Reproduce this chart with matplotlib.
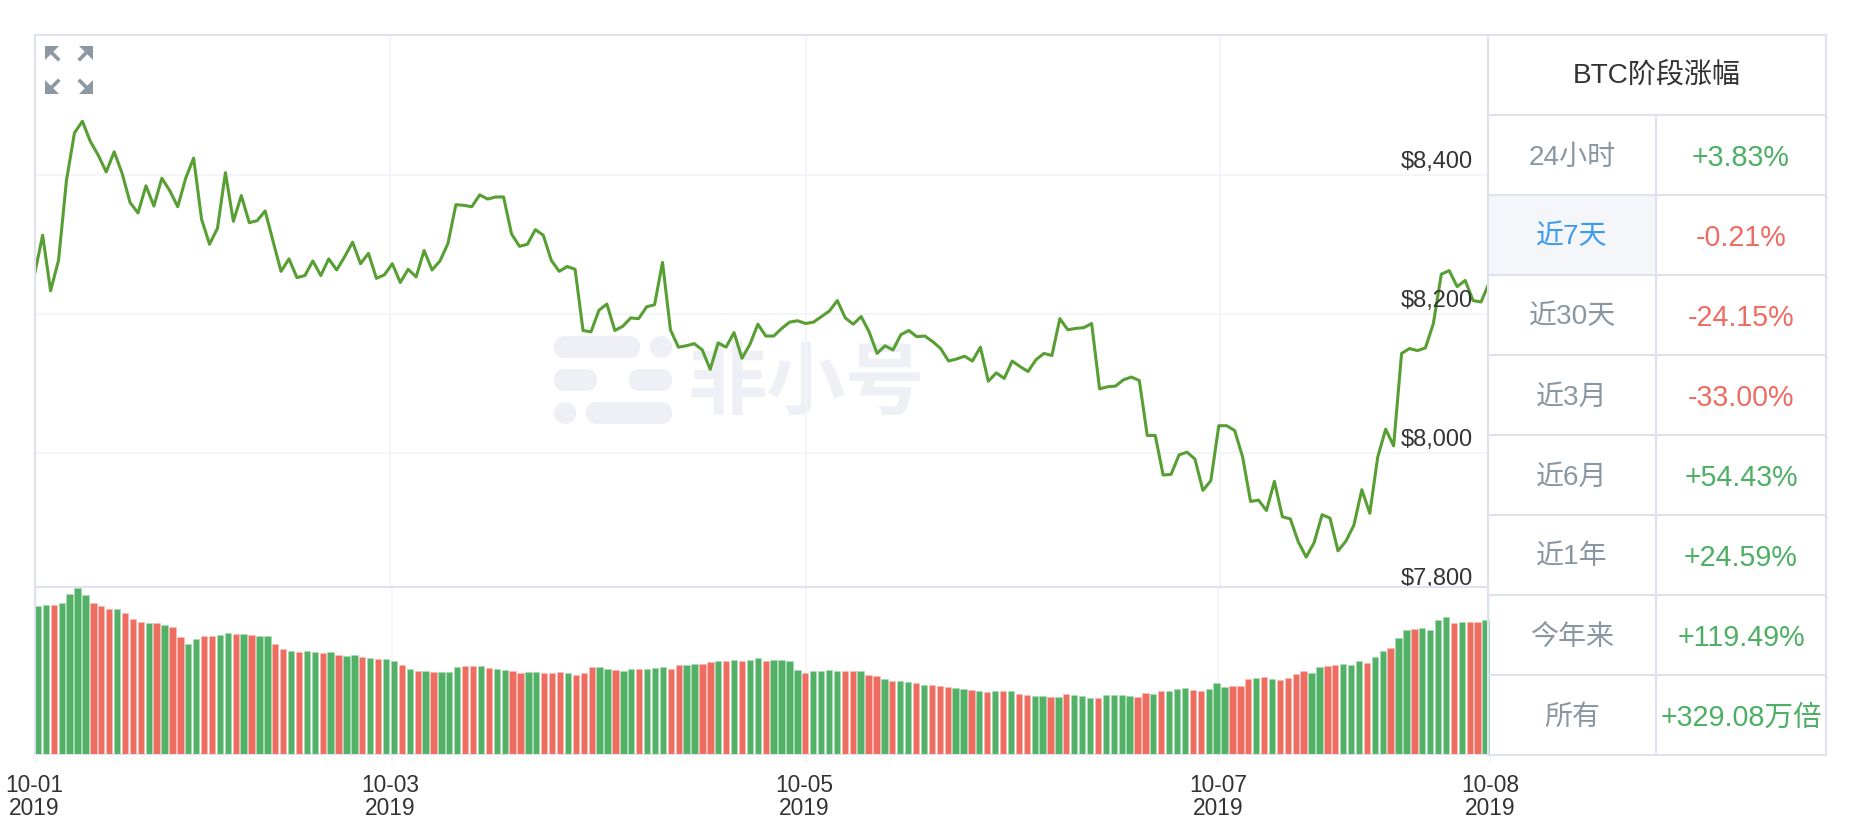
import matplotlib
matplotlib.use('Agg')
from matplotlib import pyplot as plt
from matplotlib.patches import Circle, FancyBboxPatch, Rectangle
from matplotlib.transforms import ScaledTranslation

plt.rcParams['font.family'] = ['Liberation Sans', 'Noto Sans CJK SC', 'DejaVu Sans']

prices = [
    8258, 8313, 8233, 8277, 8392, 8460, 8477, 8448, 8428, 8404, 8433, 8402, 8360, 8345, 8384, 8355,
    8395, 8377, 8354, 8395, 8424, 8336, 8300, 8323, 8403, 8333, 8370, 8331, 8334, 8348, 8304, 8261,
    8279, 8252, 8255, 8276, 8255, 8279, 8263, 8282, 8303, 8272, 8287, 8251, 8256, 8272, 8245, 8264,
    8253, 8291, 8263, 8276, 8301, 8357, 8356, 8354, 8371, 8365, 8368,
    8368, 8315, 8297, 8300, 8321, 8313, 8277, 8261, 8268, 8264, 8176, 8174, 8205, 8214, 8176, 8182,
    8194, 8193, 8210, 8213, 8274, 8177, 8152, 8154, 8157, 8148, 8120, 8158, 8152, 8173, 8136, 8156,
    8185, 8168, 8168, 8179, 8188, 8190, 8186, 8188, 8196, 8204, 8219, 8194, 8185, 8196, 8174, 8143,
    8154, 8148, 8170, 8176, 8167, 8168, 8160, 8150, 8132, 8135, 8139, 8132, 8152, 8103, 8115,
    8107, 8132, 8124, 8117, 8134, 8143, 8140, 8193, 8177, 8179, 8180, 8186, 8092, 8095, 8096, 8105,
    8109, 8104, 8025, 8025, 7968, 7969, 7997, 8001, 7991, 7946, 7960, 8039, 8039, 8032, 7994, 7930,
    7932, 7917, 7959, 7908, 7905, 7872, 7850, 7871, 7911, 7906, 7859, 7873, 7896, 7947, 7913, 7994,
    8034, 8010, 8143, 8150, 8147, 8151, 8186, 8257, 8262, 8239, 8248, 8219, 8217, 8244,
]

volumes = [
    444, 448, 446, 452, 480, 499, 477, 452, 443, 435, 435, 422, 404, 395, 393, 394, 388, 380, 351, 330,
    345, 354, 354, 357, 362, 359, 361, 358, 355, 354, 329, 315, 308, 306, 308, 305, 302, 306, 297, 294,
    297, 291, 288, 286, 284, 280, 268, 254, 250, 249, 247, 246, 247, 260, 264, 264, 264, 258, 254,
    251, 248, 243, 246, 247, 244, 243, 246, 243, 237, 242, 260, 260, 256, 252, 250, 255, 254, 254, 257,
    260, 254, 266, 268, 269, 271, 275, 278, 280, 282, 278, 282, 287, 280, 281, 281, 279, 252, 242, 248,
    249, 252, 249, 249, 249, 248, 237, 234, 224, 220, 219, 216, 214, 207, 206, 204, 202, 198, 195, 192,
    189, 185, 189,
    189, 189, 180, 176, 174, 173, 171, 172, 179, 177, 175, 169, 168, 177, 178, 177, 175, 171, 182, 180,
    188, 190, 195, 197, 193, 189, 194, 212, 201, 203, 203, 225, 228, 230, 226, 221, 228, 241, 249, 243,
    260, 264, 266, 270, 266, 278, 273, 290, 308, 318, 348, 373, 375, 377, 372, 401, 411, 392, 395, 396,
    397, 403,
]

# g = green bar, r = red bar
volume_sides = (
    'ggrggggrrrgrrrgrgrrggrrggrgrggrrgrggrgrggrgrggrgrgrgggrrgrg'
    'grrggrrrgrrrggrggrgggrrggrrgrgrggrggggrggggrrgrrgrggrgrrrggrgrg'
    'rgrrggrgrgggrggggrrgrgggrrgggrrrgrgrrrrggrrgggrggrggrggggrgrrg'
)

price_ticks = [7800, 8000, 8200, 8400]
price_tick_labels = ['$7,800', '$8,000', '$8,200', '$8,400']

date_ticks = [-0.25, 44.75, 97.1, 149.2, 183.5]
date_labels = ['10-01\n2019', '10-03\n2019', '10-05\n2019', '10-07\n2019', '10-08\n2019']

table_title = 'BTC阶段涨幅'
period_labels = ['24小时', '近7天', '近30天', '近3月', '近6月', '近1年', '今年来', '所有']
period_changes = ['+3.83%', '-0.21%', '-24.15%', '-33.00%', '+54.43%', '+24.59%', '+119.49%', '+329.08万倍']

W, H = 1866, 840
GREEN = '#52B067'
RED = '#EE6C60'
LINE = '#579F33'
BORDER = '#DFE2EE'
GRID = '#F4F5FA'
TEXT = '#333333'


def px_axes(x0, y0, x1, y1, zorder):
    ax = fig.add_axes([x0 / W, 1 - y1 / H, (x1 - x0) / W, (y1 - y0) / H], zorder=zorder)
    ax.patch.set_alpha(0)
    for s in ax.spines.values():
        s.set_visible(False)
    return ax


fig = plt.figure(figsize=(W / 100, H / 100), dpi=100, facecolor='white')

# background layer in pixel coords: watermark and corner icon
bg = px_axes(0, 0, W, H, 0)
bg.set_xlim(0, W)
bg.set_ylim(H, 0)
bg.axis('off')

WM = '#EEF0F5'
for x0, y0, x1, y1 in [(554, 336, 640, 358), (554, 369, 597, 391), (629, 369, 672, 391), (586, 402, 672, 424)]:
    bg.add_patch(FancyBboxPatch((x0 + 11, y0 + 11), x1 - x0 - 22, y1 - y0 - 22,
                                boxstyle='round,pad=11,rounding_size=11', fc=WM, ec='none'))
bg.add_patch(Circle((661, 347), 11, fc=WM, ec='none'))
bg.add_patch(Circle((565, 413), 11, fc=WM, ec='none'))
bg.text(806, 384, '非小号', fontsize=57, fontweight='bold', color=WM, ha='center', va='center',
        family=['Noto Sans CJK SC'])

ICON = '#8C98A3'
for cx, cy, dx, dy in [(45, 46, 1, 1), (93, 46, -1, 1), (45, 94, 1, -1), (93, 94, -1, -1)]:
    bg.fill([cx, cx + 14 * dx, cx], [cy, cy, cy + 14 * dy], color=ICON, lw=0)
    bg.plot([cx + 5 * dx, cx + 13 * dx], [cy + 5 * dy, cy + 13 * dy], color=ICON, lw=2.6)

# price line
ax = px_axes(36, 35, 1487, 587, 1)
ax.plot(range(len(prices)), prices, color=LINE, lw=2.2, solid_joinstyle='round')
ax.set_yticks(price_ticks)
ax.set_xticks(date_ticks[1:4])
ax.set_xlim(0.164, 182.75)
ax.set_ylim(7807, 8601)
ax.grid(True, color=GRID, lw=1.4)
ax.set_axisbelow(True)
ax.tick_params(length=0, labelleft=False, labelbottom=False)
for v, label in zip(price_ticks, price_tick_labels):
    ax.annotate(label, xy=(1, v), xycoords=('axes fraction', 'data'), xytext=(-10, 9.5),
                textcoords='offset points', ha='right', va='center', fontsize=17, color=TEXT,
                annotation_clip=False, zorder=5)

# volume bars
ax2 = px_axes(36, 587, 1490, 754, 1)
colors = [GREEN if s == 'g' else RED for s in volume_sides]
edges = ['#A5DDB2' if s == 'g' else '#F8BDB6' for s in volume_sides]
ax2.bar(range(len(volumes)), volumes, width=0.8, color=colors, edgecolor=edges, linewidth=0.4)
ax2.set_xlim(-0.25, 183.56)
ax2.set_ylim(0, 501)
ax2.set_yticks([])
ax2.set_xticks(date_ticks)
ax2.set_xticklabels(date_labels, fontsize=16.4, color=TEXT, linespacing=1.0)
ax2.xaxis.grid(True, color=GRID, lw=1.4)
ax2.set_axisbelow(True)
ax2.tick_params(axis='x', length=6.5, width=1.4, color=GRID, pad=8)
# small sideways nudges of the date labels, in pixels
for t, nudge in zip(ax2.get_xticklabels(), [-2, -2, -2, 0, 1]):
    t.set_transform(t.get_transform() + ScaledTranslation(nudge / 100, 0, fig.dpi_scale_trans))

# frame and table on top
top = px_axes(0, 0, W, H, 3)
top.set_xlim(0, W)
top.set_ylim(H, 0)
top.axis('off')

row_h = 80
table_top = 35
col0, col1, col2 = 1488, 1656, 1826

top.add_patch(Rectangle((col0, table_top + 2 * row_h), col1 - col0, row_h, fc='#F5F6FA', ec='none', zorder=1))

border = dict(color=BORDER, lw=1.5, solid_capstyle='projecting', zorder=2)
top.plot([35, col2], [table_top, table_top], **border)
top.plot([35, 35], [table_top, 754], **border)
top.plot([35, col0], [587, 587], **border)
top.plot([35, col0], [754, 754], color=BORDER, lw=0.8, zorder=2)
top.plot([col0, col0], [table_top, table_top + 9 * row_h], **border)
top.plot([col2, col2], [table_top, table_top + 9 * row_h], **border)
top.plot([col1, col1], [table_top + row_h, table_top + 9 * row_h], **border)
for r in range(1, 10):
    top.plot([col0, col2], [table_top + r * row_h] * 2, **border)

top.text((col0 + col2) / 2, table_top + row_h / 2, table_title, fontsize=20.2, color=TEXT,
         ha='center', va='center', zorder=3)
for i, (label, change) in enumerate(zip(period_labels, period_changes)):
    y = table_top + (i + 1.5) * row_h + 2.5
    top.text((col0 + col1) / 2, y, label, fontsize=20.2, ha='center', va='center', zorder=3,
             color='#3D9BEF' if i == 1 else '#8A97A3')
    top.text((col1 + col2) / 2, y, change, fontsize=20.6, ha='center', va='center', zorder=3,
             color='#4CAF63' if change[0] == '+' else '#EE6B62')

plt.savefig('out.png', dpi=100)
